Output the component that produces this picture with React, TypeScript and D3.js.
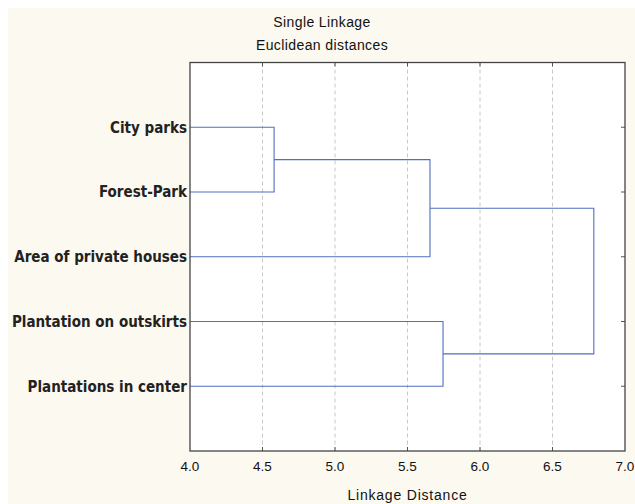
import React from "react";
import * as d3 from "d3";

const leaves = [
  "City parks",
  "Forest-Park",
  "Area of private houses",
  "Plantation on outskirts",
  "Plantations in center",
];
// merges: [a, b, height]; indices < leaves.length are leaves, others are prior merges
const merges: [number, number, number][] = [
  [0, 1, 4.58],
  [5, 2, 5.655],
  [3, 4, 5.745],
  [6, 7, 6.785],
];
const xTicks = [4.0, 4.5, 5.0, 5.5, 6.0, 6.5, 7.0];
const title1 = "Single Linkage";
const title2 = "Euclidean distances";
const xLabel = "Linkage Distance";

const W = 635, H = 504;
const left = 190, right = 625, top = 62.5, bottom = 451;

export default function App() {
  const x = d3.scaleLinear().domain([4, 7]).range([left, right]);
  const y = d3
    .scalePoint<number>()
    .domain(d3.range(-1, leaves.length + 1))
    .range([top, bottom]);

  const nodeX: number[] = leaves.map(() => x(4));
  const nodeY: number[] = leaves.map((_, i) => y(i)!);
  const paths: string[] = [];
  merges.forEach(([a, b, h]) => {
    const hx = x(h);
    const p = d3.path();
    p.moveTo(nodeX[a], nodeY[a]);
    p.lineTo(hx, nodeY[a]);
    p.lineTo(hx, nodeY[b]);
    p.lineTo(nodeX[b], nodeY[b]);
    paths.push(p.toString());
    nodeX.push(hx);
    nodeY.push((nodeY[a] + nodeY[b]) / 2);
  });

  const lineColor = "#4f6fc0";
  const sans = "Liberation Sans, Arial";
  return (
    <svg
      width={W}
      height={H}
      style={{ position: "absolute", left: 0, top: 0 }}
    >
      <rect x={0} y={0} width={W} height={H} fill="#ffffff" />
      <rect x={8} y={8} width={W - 8} height={H - 8} fill="#fcf9f0" />
      <rect x={left} y={top} width={right - left} height={bottom - top} fill="#ffffff" />
      {xTicks.slice(1, -1).map((t) => (
        <line
          key={"g" + t}
          x1={x(t)}
          x2={x(t)}
          y1={top}
          y2={bottom}
          stroke="#c8c8c8"
          strokeDasharray="4,3"
          strokeWidth={1}
        />
      ))}
      {xTicks.slice(1, -1).map((t) => (
        <g key={"t" + t}>
          <line x1={x(t)} x2={x(t)} y1={top} y2={top + 4} stroke="#555" />
          <line x1={x(t)} x2={x(t)} y1={bottom} y2={bottom - 4} stroke="#555" />
        </g>
      ))}
      {leaves.map((_, i) => (
        <line key={"rt" + i} x1={right} x2={right - 4} y1={y(i)} y2={y(i)} stroke="#555" />
      ))}
      {paths.map((d, i) => (
        <path key={"p" + i} d={d} fill="none" stroke={lineColor} strokeWidth={1.1} />
      ))}
      <rect
        x={left}
        y={top}
        width={right - left}
        height={bottom - top}
        fill="none"
        stroke="#444"
        strokeWidth={1.3}
      />
      {leaves.map((l, i) => (
        <text
          key={"l" + i}
          x={left - 3}
          y={y(i)}
          dy="0.35em"
          textAnchor="end"
          fontFamily="DejaVu Sans Condensed, DejaVu Sans"
          fontSize={15}
          fontWeight={700}
          fill="#222"
        >
          {l}
        </text>
      ))}
      {xTicks.map((t) => (
        <text
          key={"xl" + t}
          x={x(t)}
          y={471}
          textAnchor="middle"
          fontFamily={sans}
          fontSize={13.5}
          fill="#111"
        >
          {t.toFixed(1)}
        </text>
      ))}
      <text x={322} y={27} textAnchor="middle" fontFamily={sans} fontSize={14} letterSpacing={0.4} fill="#111">
        {title1}
      </text>
      <text x={322} y={50} textAnchor="middle" fontFamily={sans} fontSize={14} letterSpacing={0.4} fill="#111">
        {title2}
      </text>
      <text x={(left + right) / 2} y={500} textAnchor="middle" fontFamily={sans} fontSize={14} letterSpacing={0.8} fill="#111">
        {xLabel}
      </text>
    </svg>
  );
}
